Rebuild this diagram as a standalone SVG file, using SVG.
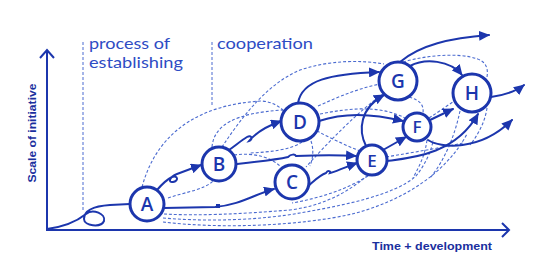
<svg xmlns="http://www.w3.org/2000/svg" width="540" height="270" viewBox="0 0 540 270">
<defs>
<marker id="ah" markerUnits="userSpaceOnUse" markerWidth="12" markerHeight="10" refX="10" refY="5" orient="auto">
<path d="M0,0 L11,5 L0,10 z" fill="#1c36ad"/>
</marker>
<style>
.s{fill:none;stroke:#1c36ad;stroke-width:2;stroke-linecap:round}
.a{marker-end:url(#ah)}
.d{fill:none;stroke:#4b6bd0;stroke-width:1.1;stroke-dasharray:3 2}
.ax{fill:none;stroke:#1c36ad;stroke-width:2}
.n circle{fill:#fff;stroke:#1c36ad;stroke-width:3}
.n text{font-family:"Open Sans","Liberation Sans",sans-serif;font-weight:600;font-size:19px;fill:#1c36ad;text-anchor:middle}
.lbl{font-family:"Lato","Liberation Sans",sans-serif;font-weight:400;font-size:16px;fill:#2e4cc4}
.axl{font-family:"Liberation Sans",sans-serif;font-weight:bold;font-size:10px;fill:#1a2f9e}
.v{fill:none;stroke:#4b6bd0;stroke-width:1;stroke-dasharray:3 2}
</style>
</defs>
<rect width="540" height="270" fill="#fff"/>
<g id="axes">
<path class="ax" d="M47,231 L47,50 M40,58 L47,50 L54,58"/>
<path class="ax" d="M46,230 L509,230 M502,223 L509,230 L502,237"/>
<text class="axl" transform="rotate(-90 36 133)" x="36" y="133" text-anchor="middle" textLength="99" lengthAdjust="spacingAndGlyphs">Scale of initiative</text>
<text class="axl" x="372" y="250" textLength="120" lengthAdjust="spacingAndGlyphs">Time + development</text>
</g>
<g id="phases">
<path class="v" d="M83,42 L83,210"/>
<path class="v" d="M212,42 L212,105"/>
<text class="lbl" x="89" y="49" textLength="81" lengthAdjust="spacingAndGlyphs">process of</text>
<text class="lbl" x="89" y="68" textLength="94" lengthAdjust="spacingAndGlyphs">establishing</text>
<text class="lbl" x="217" y="49" textLength="96" lengthAdjust="spacingAndGlyphs">cooperation</text>
</g>
<g id="connectors">
<g id="dashed">
<path class="d" d="M142,187 C158,128 205,104 262,101 C272,102 279,106 285,112"/>
<path class="d" d="M222,147 C240,120 265,85 300,70 C330,60 360,60 384,64"/>
<path class="d" d="M212,147 C214,125 235,113 283,110"/>
<path class="d" d="M234,155 C255,152 272,158 281,167"/>
<path class="d" d="M168,198 C185,192 204,190 213,181"/>
<path class="d" d="M164,214 C200,216 240,214 290,210 C320,206 345,195 368,175"/>
<path class="d" d="M163,218 C210,222 260,220 300,213 C345,205 395,195 416,176 C425,165 432,150 433,140"/>
<path class="d" d="M163,222 C220,229 300,226 352,214 C400,202 445,175 467,134"/>
<path class="d" d="M311,141 C314,150 313,158 310,166"/>
<path class="d" d="M317,131 C330,138 345,145 360,151"/>
<path class="d" d="M383,94 C360,110 330,140 306,167"/>
<path class="d" d="M318,106 C340,96 360,88 380,84"/>
<path class="d" d="M320,114 C350,108 380,105 405,118"/>
<path class="d" d="M409,97 C420,100 424,105 423,113"/>
<path class="d" d="M429,118 C440,111 448,105 456,100"/>
<path class="d" d="M427,140 C425,155 420,165 413,178"/>
<path class="d" d="M460,111 C455,135 445,160 430,178"/>
<path class="d" d="M487,108 C485,122 478,135 470,145"/>
<path class="d" d="M386,157 C415,152 440,148 463,143"/>
<path class="d" d="M403,62 C430,54 470,52 483,62 C487,66 488,70 487,77"/>
<path class="d" d="M368,176 C345,190 320,198 292,203"/>
<path class="d" d="M302,142 C290,150 270,152 250,153"/>
</g>
<g id="solid">
<path class="s" d="M47,229 C62,227 76,222 86,214 C93,208 106,214 104,221 C101,228 84,226 84,219 C84,210 95,206 110,205 L130,204"/>
<path class="s a" d="M157,190 C163,183 168,179 172,177 C178,175 179,181 173,182 C168,183 169,177 177,174 L201,165"/>
<path class="s a" d="M164,208 L215,207 C240,205 255,194 274,189"/>
<rect x="216" y="204" width="4" height="4" fill="#1c36ad"/>
<path class="s a" d="M236,164 C255,162 275,160 288,157 C291,154 295,154 296,156 C320,155 340,155 356,156"/>
<path class="s a" d="M229,150 C236,145 242,140 247,137 C252,134 253,140 249,141 C253,136 262,128 281,121"/>
<path class="s a" d="M308,186 C315,180 320,175 326,173 C328,170 331,171 330,173 C340,170 348,166 357,163"/>
<path class="s a" d="M298,103 C302,80 330,74 379,72"/>
<path class="s a" d="M319,121 C345,112 375,114 403,121"/>
<path class="s a" d="M366,146 C358,130 360,108 384,95"/>
<path class="s a" d="M383,150 L406,137"/>
<path class="s a" d="M387,161 C410,158 455,155 478,114"/>
<path class="s a" d="M428,140 C440,148 480,152 512,120"/>
<path class="s a" d="M430,120 L453,109"/>
<path class="s a" d="M410,66 C425,58 450,60 462,75"/>
<path class="s a" d="M400,62 C420,45 450,38 489,35"/>
<path class="s a" d="M491,97 C505,95 515,92 524,85"/>
</g>
</g>
<g id="A" class="n"><circle cx="147" cy="204" r="17"/><text x="147" y="211">A</text></g>
<g id="B" class="n"><circle cx="219" cy="164" r="17"/><text x="219" y="171">B</text></g>
<g id="C" class="n"><circle cx="292" cy="182" r="17"/><text x="292" y="189">C</text></g>
<g id="D" class="n"><circle cx="300" cy="122" r="19"/><text x="300" y="129">D</text></g>
<g id="E" class="n"><circle cx="372" cy="160" r="15"/><text x="372" y="167" style="font-size:17px">E</text></g>
<g id="F" class="n"><circle cx="417" cy="127" r="14"/><text x="417" y="133" style="font-size:17px">F</text></g>
<g id="G" class="n"><circle cx="398" cy="81" r="19"/><text x="398" y="88">G</text></g>
<g id="H" class="n"><circle cx="472" cy="93" r="19"/><text x="472" y="100">H</text></g>
</svg>
